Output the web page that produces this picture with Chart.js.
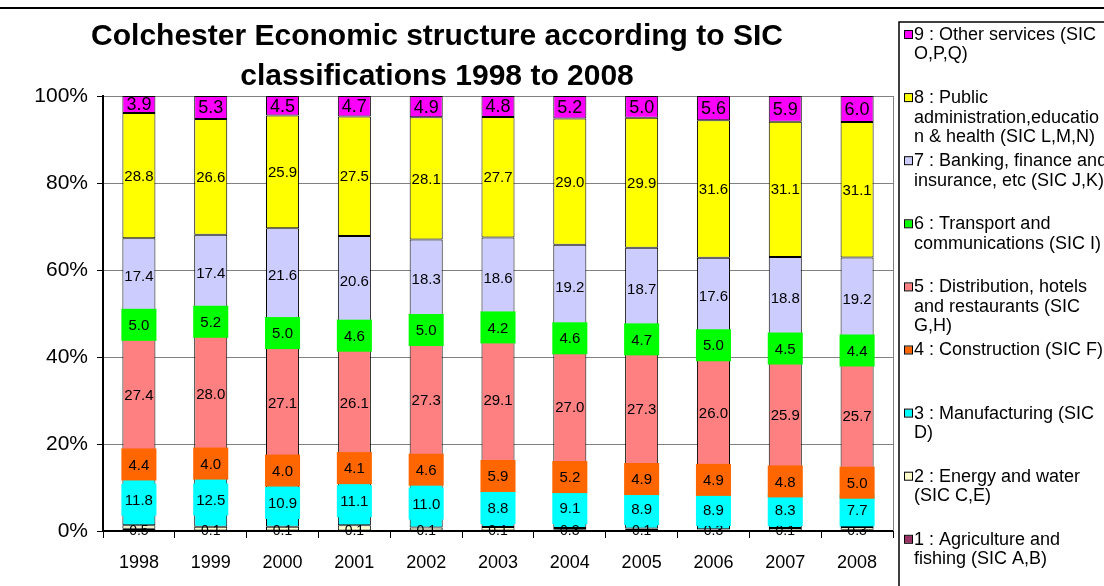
<!DOCTYPE html>
<html>
<head>
<meta charset="utf-8">
<script src="https://cdn.jsdelivr.net/npm/chart.js@4.4.0/dist/chart.umd.min.js"></script>
<style>
body { margin: 0; background: #fff; }
canvas { display: block; }
</style>
</head>
<body>
<canvas id="myChart" width="1104" height="586"></canvas>
<script>
const years = ['1998', '1999', '2000', '2001', '2002', '2003', '2004', '2005', '2006', '2007', '2008'];

// shares of employment, %
const agriculture = [0.5, 0.1, 0.1, 0.1, 0.1, 0.1, 0.3, 0.1, 0.3, 0.1, 0.3];
const energy = [0.8, 0.9, 0.9, 1.2, 0.7, 0.8, 0.4, 0.5, 0.1, 0.6, 0.6];
const manufacturing = [11.8, 12.5, 10.9, 11.1, 11.0, 8.8, 9.1, 8.9, 8.9, 8.3, 7.7];
const construction = [4.4, 4.0, 4.0, 4.1, 4.6, 5.9, 5.2, 4.9, 4.9, 4.8, 5.0];
const distribution = [27.4, 28.0, 27.1, 26.1, 27.3, 29.1, 27.0, 27.3, 26.0, 25.9, 25.7];
const transport = [5.0, 5.2, 5.0, 4.6, 5.0, 4.2, 4.6, 4.7, 5.0, 4.5, 4.4];
const banking = [17.4, 17.4, 21.6, 20.6, 18.3, 18.6, 19.2, 18.7, 17.6, 18.8, 19.2];
const publicAdmin = [28.8, 26.6, 25.9, 27.5, 28.1, 27.7, 29.0, 29.9, 31.6, 31.1, 31.1];
const otherServices = [3.9, 5.3, 4.5, 4.7, 4.9, 4.8, 5.2, 5.0, 5.6, 5.9, 6.0];

const seriesNames = [
    '1 : Agriculture and fishing (SIC A,B)',
    '2 : Energy and water (SIC C,E)',
    '3 : Manufacturing (SIC D)',
    '4 : Construction (SIC F)',
    '5 : Distribution, hotels and restaurants (SIC G,H)',
    '6 : Transport and communications (SIC I)',
    '7 : Banking, finance and insurance, etc (SIC J,K)',
    '8 : Public administration,education & health (SIC L,M,N)',
    '9 : Other services (SIC O,P,Q)'
];
// how the legend text wraps, top to bottom (9 first)
const legendLines = [
    ['9 : Other services (SIC', 'O,P,Q)'],
    ['8 : Public', 'administration,educatio', 'n & health (SIC L,M,N)'],
    ['7 : Banking, finance and', 'insurance, etc (SIC J,K)'],
    ['6 : Transport and', 'communications (SIC I)'],
    ['5 : Distribution, hotels', 'and restaurants (SIC', 'G,H)'],
    ['4 : Construction (SIC F)'],
    ['3 : Manufacturing (SIC', 'D)'],
    ['2 : Energy and water', '(SIC C,E)'],
    ['1 : Agriculture and', 'fishing (SIC A,B)']
];
const titleLines = ['Colchester Economic structure according to SIC', 'classifications 1998 to 2008'];

const colors = ['#993366', '#FFFFCC', '#00FFFF', '#FF6600', '#FF8080', '#00FF00', '#CCCCFF', '#FFFF00', '#FF00FF'];
const values = [agriculture, energy, manufacturing, construction, distribution, transport, banking, publicAdmin, otherServices];
const showLabel = [true, false, true, true, true, true, true, true, true];
const labelBox = [false, false, true, true, false, true, false, false, false];
const labelSize = [14, 14, 15, 15, 15, 15, 15, 15, 18];

const FONT = '"Liberation Sans", Arial, sans-serif';
Chart.defaults.font.family = FONT;
Chart.defaults.color = '#000';

const barLabels = {
    id: 'barLabels',
    afterDatasetsDraw(chart) {
        const c = chart.ctx;
        c.save();
        c.textAlign = 'center';
        c.textBaseline = 'middle';
        chart.data.datasets.forEach((ds, i) => {
            if (!showLabel[i]) return;
            c.font = labelSize[i] + 'px ' + FONT;
            chart.getDatasetMeta(i).data.forEach((bar, j) => {
                const y = (bar.y + bar.base) / 2;
                if (labelBox[i]) {
                    const w = bar.width + 2;
                    c.fillStyle = colors[i];
                    c.fillRect(bar.x - w / 2, y - 16, w, 32);
                }
                c.fillStyle = '#000';
                c.fillText(ds.data[j].toFixed(1), bar.x, y + 1);
            });
        });
        c.restore();
    }
};

const decorations = {
    id: 'decorations',
    afterDraw(chart) {
        const c = chart.ctx;
        const area = chart.chartArea;
        c.save();
        // right edge of plot area
        c.strokeStyle = '#808080';
        c.lineWidth = 1;
        c.beginPath();
        c.moveTo(area.right + 0.5, area.top);
        c.lineTo(area.right + 0.5, area.bottom);
        c.stroke();

        // outer chart border (top)
        c.strokeStyle = '#000';
        c.lineWidth = 2;
        c.beginPath();
        c.moveTo(0, 8);
        c.lineTo(1104, 8);
        c.stroke();

        // title
        c.fillStyle = '#000';
        c.font = 'bold 30px ' + FONT;
        c.textAlign = 'center';
        c.textBaseline = 'middle';
        c.fillText(titleLines[0], 437, 37);
        c.fillText(titleLines[1], 437, 77);

        // legend
        c.lineWidth = 1.5;
        c.strokeRect(899, 22, 400, 700);
        c.font = '18px ' + FONT;
        c.textAlign = 'left';
        legendLines.forEach((lines, k) => {
            const y0 = 35 + k * 63.1;
            const idx = 8 - k;
            c.fillStyle = colors[idx];
            c.fillRect(905, y0 - 4, 7, 7);
            c.strokeStyle = '#000';
            c.lineWidth = 1;
            c.strokeRect(904.5, y0 - 4.5, 8, 8);
            c.fillStyle = '#000';
            lines.forEach((t, n) => {
                c.fillText(t, 914, y0 + n * 19.5);
            });
        });
        c.restore();
    }
};

const ctx = document.getElementById('myChart').getContext('2d');
const myChart = new Chart(ctx, {
    type: 'bar',
    data: {
        labels: years,
        datasets: values.map((v, i) => ({
            label: seriesNames[i],
            data: v,
            backgroundColor: colors[i],
            borderColor: '#000',
            borderWidth: 1,
            borderSkipped: false,
            barPercentage: 0.46,
            categoryPercentage: 1
        }))
    },
    options: {
        responsive: false,
        animation: false,
        layout: {
            padding: { top: 96, right: 211, left: 0, bottom: 0 }
        },
        plugins: {
            legend: { display: false },
            title: { display: false },
            tooltip: { enabled: false }
        },
        scales: {
            x: {
                stacked: true,
                afterFit(scale) { scale.height = 55; },
                grid: {
                    offset: true,
                    drawOnChartArea: false,
                    tickLength: 7,
                    tickColor: '#000'
                },
                border: { color: '#000', width: 2 },
                ticks: {
                    font: { size: 18 },
                    padding: 14,
                    maxRotation: 0
                }
            },
            y: {
                stacked: true,
                min: 0,
                max: 100,
                afterFit(scale) { scale.width = 103; },
                grid: {
                    color: '#808080',
                    tickColor: '#000',
                    tickLength: 6
                },
                border: { color: '#000', width: 2 },
                ticks: {
                    stepSize: 20,
                    font: { size: 21 },
                    padding: 9,
                    callback: v => v + '%'
                }
            }
        }
    },
    plugins: [barLabels, decorations]
});
</script>
</body>
</html>
